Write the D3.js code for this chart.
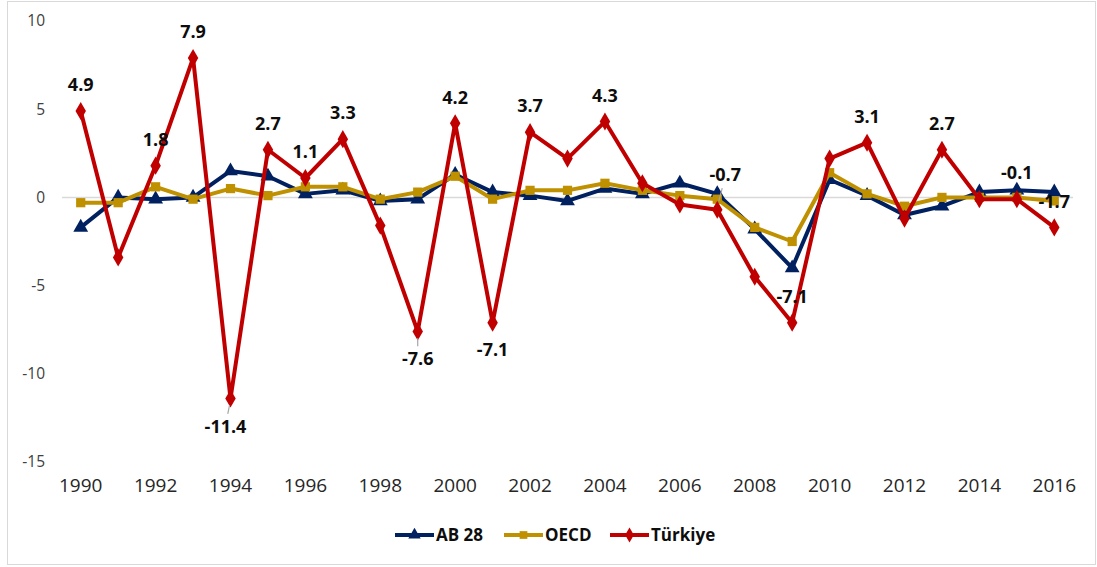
<!DOCTYPE html>
<html>
<head>
<meta charset="utf-8">
<script src="https://cdn.jsdelivr.net/npm/d3@7"></script>
<style>
  html, body { margin: 0; padding: 0; background: #fff; }
  svg text { font-family: "Open Sans", "Liberation Sans", sans-serif; }
</style>
</head>
<body>
<div id="chart"></div>
<script>
// donnees
var years = d3.range(1990, 2017);
var ab28 = [-1.7, 0.0, -0.1, 0.0, 1.5, 1.2, 0.2, 0.4, -0.2, -0.1, 1.3, 0.3, 0.1, -0.2, 0.5, 0.2, 0.8, 0.2, -1.8, -4.0, 1.0, 0.1, -1.0, -0.5, 0.3, 0.4, 0.3];
var oecd = [-0.3, -0.3, 0.6, -0.1, 0.5, 0.1, 0.6, 0.6, -0.1, 0.3, 1.2, -0.1, 0.4, 0.4, 0.8, 0.4, 0.1, -0.1, -1.7, -2.5, 1.4, 0.2, -0.5, 0.0, 0.0, 0.0, -0.2];
var turkiye = [4.9, -3.4, 1.8, 7.9, -11.4, 2.7, 1.1, 3.3, -1.6, -7.6, 4.2, -7.1, 3.7, 2.2, 4.3, 0.8, -0.4, -0.7, -4.5, -7.1, 2.2, 3.1, -1.2, 2.7, -0.1, -0.1, -1.7];
// annees avec etiquette pour Türkiye
var labelYears = [1990, 1992, 1993, 1994, 1995, 1996, 1997, 1999, 2000, 2001, 2002, 2004, 2007, 2009, 2011, 2013, 2015, 2016];
var yTicks = [10, 5, 0, -5, -10, -15];
var xTicks = d3.range(1990, 2017, 2);
var seriesNames = ["AB 28", "OECD", "Türkiye"];

// placement des etiquettes (mise en page)
var labelBelow = [1994, 1999, 2001];
var leaderYears = [1994, 1999, 2007];

var width = 1097, height = 567;
var svg = d3.select("#chart").append("svg")
  .attr("width", width)
  .attr("height", height);

// cadre
svg.append("rect")
  .attr("x", 7.5).attr("y", 1.5)
  .attr("width", 1088).attr("height", 563)
  .attr("fill", "none")
  .attr("stroke", "#d9d9d9");

var x = d3.scaleBand().domain(years).range([62, 1073]).padding(0);
var cx = function(yr) { return x(yr) + x.bandwidth() / 2; };
var y = d3.scaleLinear().domain([-15, 10]).range([462, 21]);

// axe Y
var yAxis = svg.append("g")
  .attr("transform", "translate(62,0)")
  .call(d3.axisLeft(y).tickValues(yTicks).tickSize(0).tickPadding(17)
    .tickFormat(function(d) { return String(d); }));
yAxis.select(".domain").remove();
yAxis.selectAll("text").attr("font-size", 15.5).attr("fill", "#404040");

// ligne du zero
svg.append("line")
  .attr("x1", 62).attr("x2", 1073)
  .attr("y1", y(0)).attr("y2", y(0))
  .attr("stroke", "#d9d9d9").attr("stroke-width", 1.5);

// axe X (etiquettes en bas)
var xAxis = svg.append("g")
  .attr("transform", "translate(0,478)")
  .call(d3.axisBottom(x).tickValues(xTicks).tickSize(0).tickPadding(0));
xAxis.select(".domain").remove();
xAxis.selectAll("text").attr("font-size", 19).attr("fill", "#262626").attr("dy", "0.71em");

var series = [
  { name: seriesNames[0], values: ab28, color: "#002060", symbol: d3.symbolTriangle, size: 95 },
  { name: seriesNames[1], values: oecd, color: "#BF9000", symbol: d3.symbolSquare, size: 85 },
  { name: seriesNames[2], values: turkiye, color: "#C00000", symbol: d3.symbolDiamond, size: 95 }
];

var line = d3.line()
  .x(function(d, i) { return cx(years[i]); })
  .y(function(d) { return y(d); });

series.forEach(function(s) {
  svg.append("path")
    .datum(s.values)
    .attr("fill", "none")
    .attr("stroke", s.color)
    .attr("stroke-width", 4)
    .attr("stroke-linejoin", "round")
    .attr("d", line);
  svg.selectAll(null)
    .data(s.values)
    .enter().append("path")
    .attr("d", d3.symbol().type(s.symbol).size(s.size))
    .attr("transform", function(d, i) { return "translate(" + cx(years[i]) + "," + y(d) + ")"; })
    .attr("fill", s.color);
});

// etiquettes Türkiye
var labelData = labelYears.map(function(yr) {
  var v = turkiye[years.indexOf(yr)];
  var below = labelBelow.indexOf(yr) >= 0;
  var dx = 0, dy = below ? 27 : -26;
  if (yr === 2007) { dx = 8; dy = -35; }
  if (yr === 1994) { dx = -5; dy = 28; }
  return { year: yr, value: v, x: cx(yr) + dx, y: y(v) + dy, px: cx(yr), py: y(v) };
});

labelData.forEach(function(d) {
  if (leaderYears.indexOf(d.year) >= 0) {
    var t = d.y > d.py ? 0.55 : 0.62;
    svg.append("line")
      .attr("x1", d.px + (d.x - d.px) * 0.2).attr("y1", d.py + (d.y - d.py) * 0.25)
      .attr("x2", d.px + (d.x - d.px) * t).attr("y2", d.py + (d.y - d.py) * t)
      .attr("stroke", "#a6a6a6").attr("stroke-width", 1.2);
  }
});

svg.selectAll(".lbl")
  .data(labelData)
  .enter().append("text")
  .attr("class", "lbl")
  .attr("x", function(d) { return d.x; })
  .attr("y", function(d) { return d.y; })
  .attr("dy", "0.35em")
  .attr("text-anchor", "middle")
  .attr("font-size", 18)
  .attr("font-weight", "bold")
  .attr("fill", "#0d0d0d")
  .text(function(d) { return d.value.toFixed(1); });

// legende
var legendPos = [395, 504, 610];
series.forEach(function(s, i) {
  var g = svg.append("g").attr("transform", "translate(" + legendPos[i] + ",535)");
  g.append("line")
    .attr("x1", 0).attr("x2", 39)
    .attr("stroke", s.color).attr("stroke-width", 4);
  g.append("path")
    .attr("d", d3.symbol().type(s.symbol).size(s.size * 0.7))
    .attr("transform", "translate(19.5,0)")
    .attr("fill", s.color);
  g.append("text")
    .attr("x", 41)
    .attr("dy", "0.35em")
    .attr("font-size", 17)
    .attr("font-weight", "bold")
    .attr("fill", "#0d0d0d")
    .text(s.name);
});
</script>
</body>
</html>
